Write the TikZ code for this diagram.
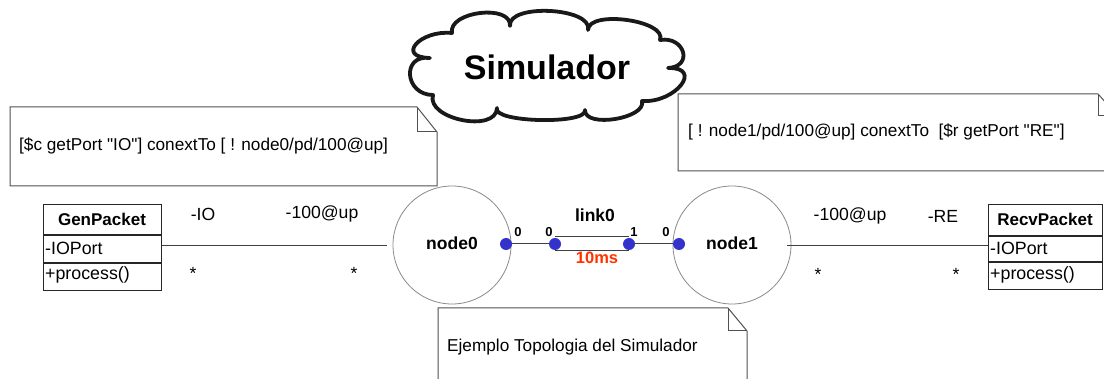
\documentclass[tikz,border=0pt]{standalone}
\usepackage{fontspec}
\setmainfont{Liberation Sans}
\newfontfamily\plainsans{Liberation Sans}
\definecolor{dotblue}{HTML}{3333CC}
\definecolor{redlbl}{HTML}{FF3300}
\definecolor{notegray}{HTML}{505050}
\definecolor{circgray}{HTML}{8A8A8A}
\tikzset{
  notebox/.style={draw=notegray, line width=1, fill=white},
  notetext/.style={anchor=west, inner sep=0, font=\plainsans\fontsize{17.2}{20}\selectfont},
  classbox/.style={draw=black!85, line width=1.3, anchor=north west, inner sep=0},
  classtitle/.style={inner sep=0, font=\fontsize{17}{20}\selectfont\bfseries},
  member/.style={anchor=west, inner sep=0, font=\fontsize{17.8}{20}\selectfont},
  rolelbl/.style={inner sep=0, font=\fontsize{17.6}{20}\selectfont},
  simnode/.style={circle, draw=circgray, line width=0.8, minimum size=118, inner sep=0, font=\fontsize{17.5}{20}\selectfont\bfseries},
  port/.style={circle, fill=dotblue, minimum size=12, inner sep=0},
  portlbl/.style={inner sep=0, font=\fontsize{13}{15}\selectfont\bfseries},
  wire/.style={draw=black!75, line width=1},
  cloudline/.style={draw=black!90, line width=3.8, line join=round, fill=white},
}
\begin{document}
\begin{tikzpicture}[x=1pt,y=-1pt]
\clip (0,0) rectangle (1104,379);
\fill[white] (0,0) rectangle (1104,379);

% cloud
\path[cloudline] (452,33)
  .. controls (447.8,11.4) and (511.6,3.6) .. (510,26)
  .. controls (507.4,3.1) and (593.2,7.5) .. (588,30)
  .. controls (588.4,9.5) and (667.6,20.5) .. (660,40)
  .. controls (684.9,35.9) and (693.7,66.7) .. (668,68)
  .. controls (704,67.1) and (675.4,103.3) .. (642,101)
  .. controls (646.8,118.6) and (584.2,128.5) .. (585,110)
  .. controls (588.1,124.8) and (491.3,122.6) .. (497,108)
  .. controls (496.2,133.4) and (425.8,119) .. (433,95)
  .. controls (404.5,94.9) and (401.2,54.2) .. (430,58)
  .. controls (395.6,57.3) and (419.8,29.8) .. (452,33) -- cycle;
\node[inner sep=0, font=\fontsize{34}{38}\selectfont\bfseries] (sim) at (547,67) {Simulador};

% note 1
\draw[notebox] (10,107) -- (417,107) -- (437,132) -- (437,186) -- (10,186) -- cycle;
\draw[notegray, line width=1] (417,107) -- (417,132) -- (437,132);
\node[notetext] (t1) at (19,146) {[\$c getPort "IO"] conextTo [ ! node0/pd/100@up]};

% note 2
\draw[notebox] (678,94) -- (1098,94) -- (1118,116) -- (1118,171) -- (678,171) -- cycle;
\draw[notegray, line width=1] (1098,94) -- (1098,116) -- (1118,116);
\node[notetext] (t2) at (688,132) {[ ! node1/pd/100@up] conextTo \ [\$r getPort "RE"]};

% note 3
\draw[notebox] (438,308) -- (728,308) -- (747,331) -- (747,390) -- (438,390) -- cycle;
\draw[notegray, line width=1] (728,308) -- (728,331) -- (747,331);
\node[notetext] (t3) at (447,347) {Ejemplo Topologia del Simulador};

% GenPacket class
\node[classbox, minimum width=118, minimum height=86] (gen) at (43,204) {};
\draw[black!85, line width=1.3] (43,235) -- (161,235) (43,263) -- (161,263);
\node[classtitle] (gent) at (102,219) {GenPacket};
\node[member] (genm1) at (45,248) {-IOPort};
\node[member] (genm2) at (45,275) {+process()};

% RecvPacket class
\node[classbox, minimum width=114, minimum height=85] (recv) at (988,204) {};
\draw[black!85, line width=1.3] (988,236) -- (1102,236) (988,262) -- (1102,262);
\node[classtitle] (recvt) at (1045,219) {RecvPacket};
\node[member] (recvm1) at (990,248) {-IOPort};
\node[member] (recvm2) at (990,275) {+process()};

% simulator nodes
\node[simnode] (n0) at (452,245) {\raisebox{3pt}{node0}};
\node[simnode] (n1) at (732,245) {\raisebox{3pt}{node1}};

% associations
\coordinate (a0) at (387,246);
\coordinate (a1) at (787,246);
\draw[wire] (gen.east |- a0) -- (a0);
\draw[wire] (a1) -- (recv.west |- a1);
\node[rolelbl] (l1) at (203,214) {-IO};
\node[rolelbl] (l2) at (322,214) {-100@up};
\node[rolelbl] (l3) at (193,273) {*};
\node[rolelbl] (l4) at (354,273) {*};
\node[rolelbl] (r1) at (850,216) {-100@up};
\node[rolelbl] (r2) at (943,216) {-RE};
\node[rolelbl] (r3) at (818,274) {*};
\node[rolelbl] (r4) at (956,274) {*};

% link
\node[port] (p1) at (506,244) {};
\node[port] (p2) at (555,244) {};
\node[port] (p3) at (629,244) {};
\node[port] (p4) at (679,244) {};
\draw[wire] (p1) -- (p2);
\draw[wire] (p3) -- (p4);
\draw[wire] ([yshift=-7]p2.center) -- ([yshift=-7]p3.center);
\draw[wire] ([yshift=7]p2.center) -- ([yshift=7]p3.center);
\node[portlbl] (q1) at (518,232) {0};
\node[portlbl] (q2) at (549,232) {0};
\node[portlbl] (q3) at (634,232) {1};
\node[portlbl] (q4) at (666,232) {0};
\node[inner sep=0, font=\fontsize{17.5}{20}\selectfont\bfseries] (lk) at (595,215) {link0};
\node[inner sep=0, text=redlbl, font=\fontsize{16.5}{19}\selectfont\bfseries] (dl) at (597,258) {10ms};
\end{tikzpicture}
\end{document}
